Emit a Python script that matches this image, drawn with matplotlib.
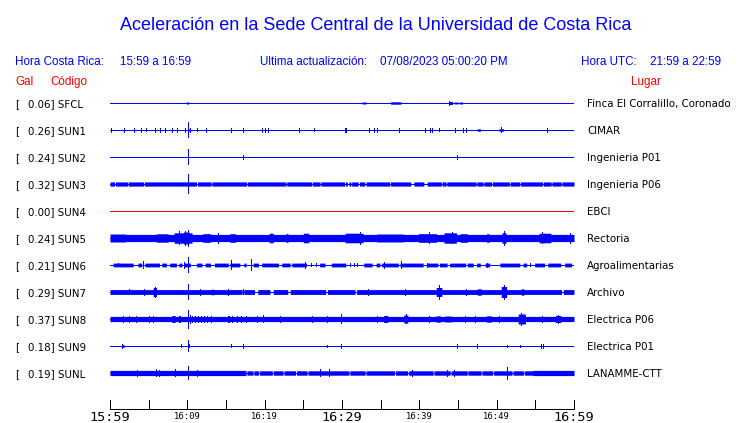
import numpy as np
import matplotlib
matplotlib.use("Agg")
import matplotlib.pyplot as plt

# ---------------- data ----------------
codes = ["SFCL", "SUN1", "SUN2", "SUN3", "SUN4", "SUN5", "SUN6", "SUN7", "SUN8", "SUN9", "SUNL"]
gal = [0.06, 0.26, 0.24, 0.32, 0.00, 0.24, 0.21, 0.29, 0.37, 0.18, 0.19]
places = ["Finca El Corralillo, Coronado", "CIMAR", "Ingenieria P01", "Ingenieria P06", "EBCI",
          "Rectoria", "Agroalimentarias", "Archivo", "Electrica P06", "Electrica P01", "LANAMME-CTT"]

tick_minutes = [0, 5, 10, 15, 20, 25, 30, 35, 40, 45, 50, 55, 60]
tick_labels = {0: "15:59", 10: "16:09", 20: "16:19", 30: "16:29", 40: "16:39", 50: "16:49", 60: "16:59"}
major_labels = [0, 30, 60]

title = "Aceleración en la Sede Central de la Universidad de Costa Rica"
hora_cr = "15:59 a 16:59"
hora_utc = "21:59 a 22:59"
actualizacion = "07/08/2023 05:00:20 PM"

# per-station envelopes: bands (t0, t1, half-amplitude), gaps (t0, t1), spikes (t, half-amplitude)
SFCL_band = [(9.9, 10.2, 1.0), (32.6, 33.1, 1.0), (36.3, 37.6, 1.2), (43.8, 44.3, 1.5), (44.5, 45.0, 1.0), (45.2, 45.6, 1.0)]
SFCL_gaps = []
SFCL_spikes = [(43.9, 2.0)]

SUN1_band = [(10.0, 10.4, 1.0), (47.5, 47.9, 1.2), (50.3, 50.9, 1.2)]
SUN1_gaps = []
SUN1_spikes = [(0.14, 2), (1.85, 2), (3.14, 2), (4.0, 2), (4.7, 1.5), (5.8, 2), (6.5, 2), (7.15, 2), (8.05, 2),
               (8.6, 2), (9.7, 2), (10.05, 7.5), (10.3, 2), (11.3, 1.5), (12.4, 2), (15.6, 2), (17.2, 2),
               (19.7, 2), (20.1, 2), (20.4, 2), (24.5, 2), (26.4, 1.5), (30.4, 2), (30.5, 2), (33.5, 2),
               (34.1, 2), (34.5, 2), (37.4, 2), (40.7, 2), (41.4, 2), (41.7, 2), (42.5, 1.5), (44.65, 2),
               (45.7, 2), (46.0, 2), (50.6, 2.5), (56.5, 2)]

SUN2_band = []
SUN2_gaps = []
SUN2_spikes = [(10.05, 7.5), (10.15, 2.0), (17.2, 2.0), (44.9, 2.0)]

SUN3_band = [(0.0, 60.0, 2.1)]
SUN3_gaps = [(0.6, 0.7), (2.25, 2.35), (4.35, 4.45), (11.2, 11.3), (13.1, 13.2),
             (17.65, 17.75), (22.75, 22.85), (26.05, 26.15), (27.15, 27.25), (30.35, 30.45), (30.7, 30.9),
             (31.15, 31.25), (32.1, 32.25), (32.95, 33.1), (36.15, 36.25), (38.9, 39.3),
             (40.6, 41.0), (42.85, 42.95), (43.45, 43.55), (47.35, 47.45), (48.25, 48.35), (49.35, 49.45),
             (51.65, 51.75), (52.95, 53.05), (55.95, 56.05), (57.05, 57.15), (58.35, 58.45)]
SUN3_spikes = [(10.05, 9.5)]

SUN4_band = []
SUN4_gaps = []
SUN4_spikes = []

SUN5_band = [(0.0, 60.0, 3.6), (0.0, 2.0, 4.0), (6.0, 7.5, 4.2), (8.3, 10.6, 5.2), (9.5, 10.2, 6.0),
             (12.0, 13.0, 4.3), (15.5, 16.2, 4.3), (20.6, 21.1, 4.8), (22.8, 23.0, 4.5), (25.0, 25.7, 4.8),
             (30.4, 32.7, 4.8), (34.5, 37.9, 4.0), (39.9, 42.2, 4.3), (43.2, 44.8, 5.2), (45.3, 46.2, 4.3),
             (48.7, 49.0, 4.3), (50.7, 51.2, 5.2), (55.5, 57.0, 4.8)]
SUN5_gaps = []
SUN5_spikes = [(8.9, 6.5), (9.7, 7.0), (10.05, 8.0), (14.0, 5.0), (32.3, 6.0), (41.3, 5.5), (44.2, 5.5),
               (50.9, 7.0), (55.8, 5.5), (59.5, 5.0)]

SUN6_band = [(0.0, 60.0, 1.9)]
SUN6_gaps = [(-0.5, 0.4), (3.0, 3.6), (4.1, 4.5), (6.4, 6.7), (7.3, 7.7), (8.6, 8.9), (9.3, 9.5), (10.4, 11.2),
             (11.9, 12.3), (13.0, 13.5), (15.3, 15.5), (16.8, 17.3), (17.6, 18.5), (19.2, 19.6), (21.8, 22.2),
             (23.3, 23.5), (25.4, 27.1), (27.8, 28.6), (30.5, 32.8), (33.9, 34.4), (34.9, 35.1), (37.3, 37.5),
             (40.5, 40.9), (42.4, 42.6), (43.6, 43.9), (46.0, 46.2), (46.98, 47.4), (47.9, 48.5), (49.1, 50.4),
             (53.0, 53.4), (53.9, 54.9), (56.2, 56.6), (58.3, 58.8), (59.7, 60.2)]
SUN6_spikes = [(1.0, 1.5), (4.3, 3.5), (9.6, 3.0), (10.05, 7.5), (15.65, 4.5), (18.2, 5.5), (25.2, 3.0),
               (26.0, 1.5), (26.7, 1.5), (31.0, 1.5), (31.5, 1.5), (32.0, 1.5), (35.4, 3.0), (37.6, 3.5),
               (41.0, 2.0), (48.8, 2.0), (54.3, 1.5)]

SUN7_band = [(0.0, 60.0, 2.4), (5.6, 6.0, 4.5), (13.1, 13.4, 2.8), (42.2, 42.9, 4.5), (47.5, 48.0, 3.2),
             (50.6, 51.3, 5.5), (53.2, 53.5, 3.2)]
SUN7_gaps = [(17.1, 17.3), (18.7, 19.1), (20.7, 21.1), (23.0, 23.3), (27.9, 28.1), (31.7, 31.9), (58.4, 58.6)]
SUN7_spikes = [(2.5, 2.5), (4.4, 3.0), (5.8, 5.0), (10.05, 7.5), (11.6, 2.8), (15.2, 3.0), (15.3, 3.0),
               (17.2, 2.5), (33.3, 2.8), (38.1, 2.8), (42.5, 7.0), (46.0, 2.8), (50.9, 7.0)]

SUN8_band = [(0.0, 60.0, 2.6), (8.0, 8.4, 3.5), (35.4, 35.9, 3.5), (38.0, 38.5, 4.0), (42.2, 42.7, 3.2),
             (43.3, 44.2, 3.0), (48.7, 49.3, 3.2), (52.8, 53.7, 5.0), (57.6, 58.3, 3.5)]
SUN8_gaps = []
SUN8_spikes = [(1.7, 3.0), (2.4, 3.0), (3.3, 3.0), (5.0, 3.0), (5.6, 3.0), (8.9, 3.0), (9.1, 3.0), (10.05, 9.3),
               (10.3, 4.0), (10.6, 3.0), (11.0, 3.2), (11.4, 3.0), (11.8, 3.2), (12.2, 3.0), (12.6, 3.2),
               (13.0, 3.0), (15.4, 3.2), (15.2, 3.0), (15.8, 3.0), (16.4, 3.0), (16.9, 3.0), (17.6, 3.0),
               (19.0, 3.2), (19.8, 3.5), (22.0, 3.2), (26.1, 3.0), (28.1, 3.0), (29.9, 4.5), (34.5, 3.0),
               (38.3, 4.5), (41.3, 3.2), (45.9, 3.0), (47.2, 3.0), (50.3, 3.0), (53.2, 6.0), (55.9, 3.0),
               (57.9, 4.0)]

SUN9_band = [(1.5, 1.8, 1.5)]
SUN9_gaps = []
SUN9_spikes = [(1.6, 2.0), (9.2, 1.5), (10.05, 5.5), (10.2, 1.5), (15.6, 1.5), (17.2, 2.0), (28.0, 1.0),
               (29.9, 2.0), (44.9, 2.0), (47.5, 2.0), (51.3, 1.0), (53.0, 1.0), (55.7, 2.0), (56.0, 2.0)]

SUNL_band = [(0.0, 17.7, 2.6), (17.7, 54.7, 2.2), (54.7, 60.0, 2.6)]
SUNL_gaps = [(17.6, 17.7), (18.5, 18.6), (19.2, 19.3), (21.0, 21.1), (22.4, 22.5), (24.0, 24.1), (25.5, 25.6),
             (30.9, 31.0), (33.0, 33.1), (36.8, 36.9), (38.5, 38.6), (41.8, 41.9), (44.0, 44.1), (46.2, 46.3),
             (48.0, 48.1), (49.5, 49.6), (52.0, 52.1), (53.5, 53.6)]
SUNL_spikes = [(3.5, 3.0), (6.0, 3.5), (6.3, 3.0), (8.4, 3.5), (10.05, 6.5), (11.3, 3.0), (27.1, 3.5),
               (28.3, 3.5), (39.1, 3.0), (43.6, 3.0), (44.5, 3.0), (51.4, 6.0)]

bands = [SFCL_band, SUN1_band, SUN2_band, SUN3_band, SUN4_band, SUN5_band, SUN6_band, SUN7_band, SUN8_band, SUN9_band, SUNL_band]
gaps = [SFCL_gaps, SUN1_gaps, SUN2_gaps, SUN3_gaps, SUN4_gaps, SUN5_gaps, SUN6_gaps, SUN7_gaps, SUN8_gaps, SUN9_gaps, SUNL_gaps]
spikes = [SFCL_spikes, SUN1_spikes, SUN2_spikes, SUN3_spikes, SUN4_spikes, SUN5_spikes, SUN6_spikes, SUN7_spikes, SUN8_spikes, SUN9_spikes, SUNL_spikes]

# ---------------- figure ----------------
W, H = 740, 423
fig = plt.figure(figsize=(W / 100, H / 100), dpi=100)
fig.patch.set_facecolor("white")

BLUE = "#0000ff"
RED = "#ff0000"
HDR = ["Liberation Sans", "DejaVu Sans"]
LBL = ["DejaVu Sans"]
LW = 0.72  # one pixel


def ftext(x, y, s, **kw):
    fig.text(x / W, 1 - y / H, s, **kw)


# header
ftext(375.5, 30, title, ha="center", va="baseline", fontsize=13.0, color=BLUE, family=HDR)
ftext(15, 65, "Hora Costa Rica:", ha="left", va="baseline", fontsize=8.4, color=BLUE, family=HDR)
ftext(120.5, 65, hora_cr, ha="left", va="baseline", fontsize=8.4, color=BLUE, family=HDR)
ftext(260, 65, "Ultima actualización:", ha="left", va="baseline", fontsize=8.4, color=BLUE, family=HDR)
ftext(380, 65, actualizacion, ha="left", va="baseline", fontsize=8.4, color=BLUE, family=HDR)
ftext(581, 65, "Hora UTC:", ha="left", va="baseline", fontsize=8.4, color=BLUE, family=HDR)
ftext(649.5, 65, hora_utc, ha="left", va="baseline", fontsize=8.4, color=BLUE, family=HDR)
ftext(15, 85, "Gal", ha="left", va="baseline", fontsize=8.4, color=RED, family=HDR)
ftext(50.7, 85, "Código", ha="left", va="baseline", fontsize=8.4, color=RED, family=HDR)
ftext(630.6, 85, "Lugar", ha="left", va="baseline", fontsize=8.4, color=RED, family=HDR)

# trace axes: x in minutes, y in pixel rows
ax = fig.add_axes([110 / W, 0, 464 / W, 1])
ax.set_xlim(0, 60)
ax.set_ylim(H, 0)
ax.axis("off")

tgrid = np.arange(0, 60.0001, 0.02)
row0, drow = 103, 27
for i, code in enumerate(codes):
    y = row0 + drow * i
    ftext(15, y + 4, "[", ha="left", va="baseline", fontsize=7.4, color="black", family=LBL)
    ftext(27.7, y + 4, f"{gal[i]:.2f}] {code}", ha="left", va="baseline", fontsize=7.4, color="black", family=LBL)
    ftext(587.3, y + 4, places[i], ha="left", va="baseline", fontsize=7.4, color="black", family=LBL)
    color = RED if code == "SUN4" else BLUE
    ax.plot([0, 60], [y, y], color=color, lw=LW, antialiased=False, solid_capstyle="butt")
    env = np.zeros_like(tgrid)
    for t0, t1, a in bands[i]:
        m = (tgrid >= t0) & (tgrid <= t1)
        env[m] = np.maximum(env[m], a)
    for t0, t1 in gaps[i]:
        m = (tgrid >= t0) & (tgrid <= t1)
        env[m] = 0
    if env.any():
        ax.fill_between(tgrid, y - env, y + env, step="mid", color=color, lw=0, antialiased=False)
    for t, a in spikes[i]:
        ax.plot([t, t], [y - a, y + a], color=color, lw=LW, antialiased=False, solid_capstyle="butt")

# time axis
ax.plot([0, 60], [409, 409], color="black", lw=LW, antialiased=False, clip_on=False)
for m in tick_minutes:
    ax.plot([m, m], [400, 409], color="black", lw=LW, antialiased=False, clip_on=False)
    if m in tick_labels:
        big = m in major_labels
        ax.text(m, 421 if big else 419, tick_labels[m], ha="center", va="baseline",
                fontsize=9.7 if big else 6.4, family=["DejaVu Sans Mono"], color="black")

fig.savefig("out.png", dpi=100, facecolor="white")
